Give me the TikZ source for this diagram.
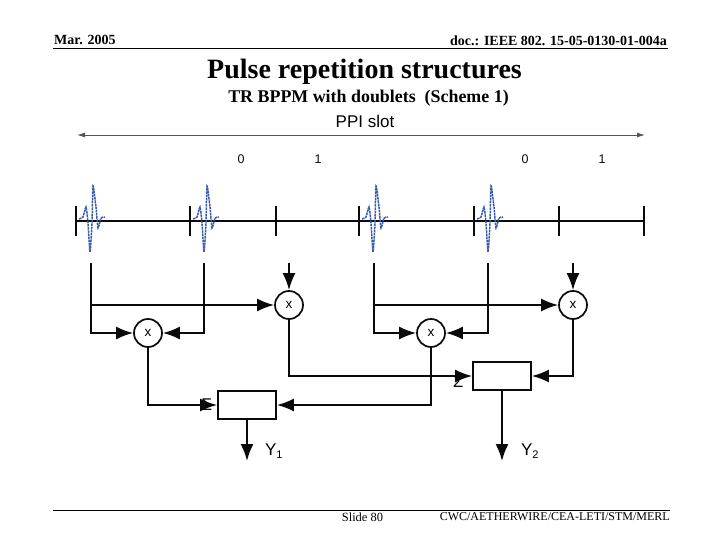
\documentclass[tikz,border=0pt]{standalone}
\usepackage{fontspec}
\setmainfont{Liberation Serif}
\setsansfont{Liberation Sans}
\usepackage{xcolor}
\usetikzlibrary{arrows.meta,positioning}
\definecolor{inkg}{HTML}{0A0A0A}
\definecolor{pulseb}{HTML}{3A5CA8}
\definecolor{rulec}{HTML}{555555}
\tikzset{
  mult/.style={circle, draw=inkg, fill=white, line width=1.7pt, minimum size=28pt, inner sep=0pt, font=\sffamily\fontsize{13.5}{13}\selectfont},
  sumbox/.style={rectangle, draw=inkg, fill=white, line width=1.7pt, minimum width=58pt, minimum height=28pt, inner sep=0pt},
  fl/.style={-{Latex[length=17pt,width=13pt]}, line width=1.9pt, draw=inkg},
  axisl/.style={{Latex[length=8pt,width=5pt]}-{Latex[length=8pt,width=5pt]}, line width=0.9pt, draw=rulec},
  tick/.style={line width=1.9pt, draw=inkg},
  pulse/.style={draw=pulseb, line width=1.5pt, dash pattern=on 2.5pt off 0.7pt},
  lbl/.style={font=\sffamily\fontsize{12.5}{12}\selectfont, inner sep=0pt, text=inkg},
  sigma/.style={font=\sffamily\fontsize{17}{17}\selectfont, inner sep=0pt, text=inkg},
  hdr/.style={font=\bfseries\fontsize{14}{14}\selectfont, inner sep=0pt},
  ftr/.style={font=\fontsize{12}{14}\selectfont, inner sep=0pt},
}
\begin{document}
\begin{tikzpicture}[x=1pt,y=-1pt]
  \useasboundingbox (0,0) rectangle (720,540);
  % header and footer
  \node[hdr,anchor=west] (date) at (54,40) {Mar. 2005};
  \node[hdr,anchor=east] (docid) at (667,40.5) {doc.: IEEE 802. 15-05-0130-01-004a};
  \draw[line width=0.9pt] (53,48) -- (668,48);
  \node[font=\bfseries\fontsize{28}{28}\selectfont,inner sep=0pt] (title) at (364.5,71.5) {Pulse repetition structures};
  \node[font=\bfseries\fontsize{17.9}{18}\selectfont,inner sep=0pt] (subtitle) at (368.5,98) {TR BPPM with doublets\ \ (Scheme 1)};
  \draw[line width=0.9pt] (53,510) -- (670,510);
  \node[font=\fontsize{12.5}{14}\selectfont,inner sep=0pt] (slide) at (362.5,517) {Slide 80};
  \node[ftr,anchor=east] (orgs) at (670,517) {CWC/AETHERWIRE/CEA-LETI/STM/MERL};
  % slot axis
  \coordinate (pL) at (77,135);
  \coordinate (pR) at (645,135);
  \draw[axisl] (pL) -- (pR);
  \node[font=\sffamily\fontsize{17}{17}\selectfont,inner sep=0pt] (ppi) at (365,121) {PPI slot};
  \node[lbl] (b1) at (241,159) {0};
  \node[lbl] (b2) at (318,159) {1};
  \node[lbl] (b3) at (525,159) {0};
  \node[lbl] (b4) at (602,159) {1};
  % time line with pulses
  \draw[tick] (76,221) -- (644,221);
  \foreach \tx in {76,190,276,359,474,559,644}{
    \draw[tick] (\tx,206) -- (\tx,236);
  }
  \foreach \tx in {76,190,359,474}{
    \draw[pulse] plot[smooth,tension=0.35] coordinates {(\tx+3,219) (\tx+7,217) (\tx+10,207) (\tx+12,223) (\tx+14,252) (\tx+16,223) (\tx+17,186) (\tx+20,207) (\tx+22,228) (\tx+25,218) (\tx+29,217)};
  }
  % multipliers and boxes
  \node[mult] (m1) at (148,333) {x};
  \node[mult] (m2) at (289,305) {x};
  \node[mult] (m3) at (431,333) {x};
  \node[mult] (m4) at (573,305) {x};
  \node[sumbox] (s1) at (247,405) {};
  \node[sumbox] (s2) at (502,376) {};
  \node[sigma] (e1) at (207,405) {Σ};
  \node[sigma] (e2) at (458,382) {Σ};
  % free ends
  \coordinate (a1) at (91,263);
  \coordinate (a2) at (204,263);
  \coordinate (a3) at (289,263);
  \coordinate (a4) at (374,263);
  \coordinate (a5) at (488,263);
  \coordinate (a6) at (573,263);
  \coordinate (j1) at (91,305);
  \coordinate (j2) at (374,305);
  \coordinate (y1) at (247,461);
  \coordinate (y2) at (502,461);
  % connectors
  \draw[fl] (a1) |- (m1);
  \draw[fl] (a2) |- (m1);
  \draw[fl] (j1) -- (m2);
  \draw[fl] (a3) -- (m2);
  \draw[fl] (a4) |- (m3);
  \draw[fl] (a5) |- (m3);
  \draw[fl] (j2) -- (m4);
  \draw[fl] (a6) -- (m4);
  \draw[fl] (m1) |- (s1);
  \draw[fl] (m3) |- (s1);
  \draw[fl] (m2) |- (s2);
  \draw[fl] (m4) |- (s2);
  \draw[fl] (s1) -- (y1);
  \draw[fl] (s2) -- (y2);
  \node[font=\sffamily\fontsize{17}{17}\selectfont,inner sep=0pt] (o1) at (274,451) {Y\textsubscript{\fontsize{11}{11}\selectfont 1}};
  \node[font=\sffamily\fontsize{17}{17}\selectfont,inner sep=0pt] (o2) at (530,451) {Y\textsubscript{\fontsize{11}{11}\selectfont 2}};
\end{tikzpicture}
\end{document}
